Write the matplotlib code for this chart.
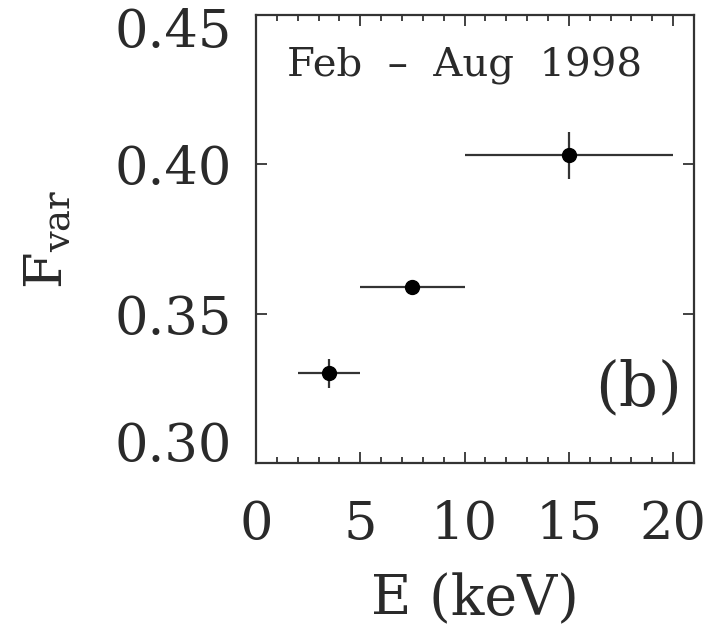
import matplotlib
matplotlib.use("Agg")
import matplotlib.pyplot as plt
import matplotlib.transforms as mtransforms
from matplotlib.ticker import MultipleLocator

# Data
energy = [3.5, 7.5, 15.0]
energy_lo = [2.0, 5.0, 10.0]
energy_hi = [5.0, 10.0, 20.0]
fvar = [0.330, 0.359, 0.403]
fvar_err = [0.005, 0.002, 0.008]
x_ticks = [0, 5, 10, 15, 20]
y_ticks = [0.30, 0.35, 0.40, 0.45]
annotation = "Feb  –  Aug  1998"
panel_label = "(b)"

plt.rcParams['font.family'] = ['DejaVu Serif']
plt.rcParams['mathtext.fontset'] = 'dejavuserif'

fig = plt.figure(figsize=(7.11, 6.30), dpi=100)
ax = fig.add_axes([0.360, 0.265, 0.616, 0.711])

xerr = [[e - lo for e, lo in zip(energy, energy_lo)],
        [hi - e for e, hi in zip(energy, energy_hi)]]
ax.errorbar(energy, fvar, xerr=xerr, yerr=fvar_err, fmt='o', color='black',
            ecolor='#333333', elinewidth=1.6, capsize=0, markersize=10)

ax.set_xlim(0, 21)
ax.set_ylim(0.30, 0.45)
ax.set_xticks(x_ticks)
ax.set_yticks(y_ticks)
ax.set_yticklabels([f"{v:.2f}" for v in y_ticks])
ax.xaxis.set_minor_locator(MultipleLocator(1))

ax.tick_params(which='both', direction='in', top=True, right=True,
               labelsize=38, width=1.3, colors='#333333', labelcolor='#2a2a2a')
ax.tick_params(which='major', length=8)
ax.tick_params(which='minor', length=4)
ax.tick_params(axis='x', which='major', pad=26)
ax.tick_params(axis='y', which='major', pad=17)
for s in ax.spines.values():
    s.set_linewidth(1.6)
    s.set_color('#333333')

# keep extreme y labels inside the axis height
yt = ax.yaxis.get_major_ticks()
lab_bot = yt[0].label1
lab_top = yt[-1].label1
lab_bot.set_transform(lab_bot.get_transform() +
                      mtransforms.ScaledTranslation(0, 22 / 100, fig.dpi_scale_trans))
lab_top.set_transform(lab_top.get_transform() +
                      mtransforms.ScaledTranslation(0, -12 / 100, fig.dpi_scale_trans))

ax.set_xlabel("E (keV)", fontsize=40, color='#2a2a2a', labelpad=16)
ax.set_ylabel(r"$\mathrm{F_{var}}$", fontsize=38, color='#2a2a2a', labelpad=30)

ax.text(0.07, 0.862, annotation, transform=ax.transAxes, fontsize=29,
        color='#2a2a2a', ha='left', va='baseline')
ax.text(0.973, 0.129, panel_label, transform=ax.transAxes, fontsize=44,
        color='#2a2a2a', ha='right', va='baseline')

fig.savefig("out.png", dpi=100)
